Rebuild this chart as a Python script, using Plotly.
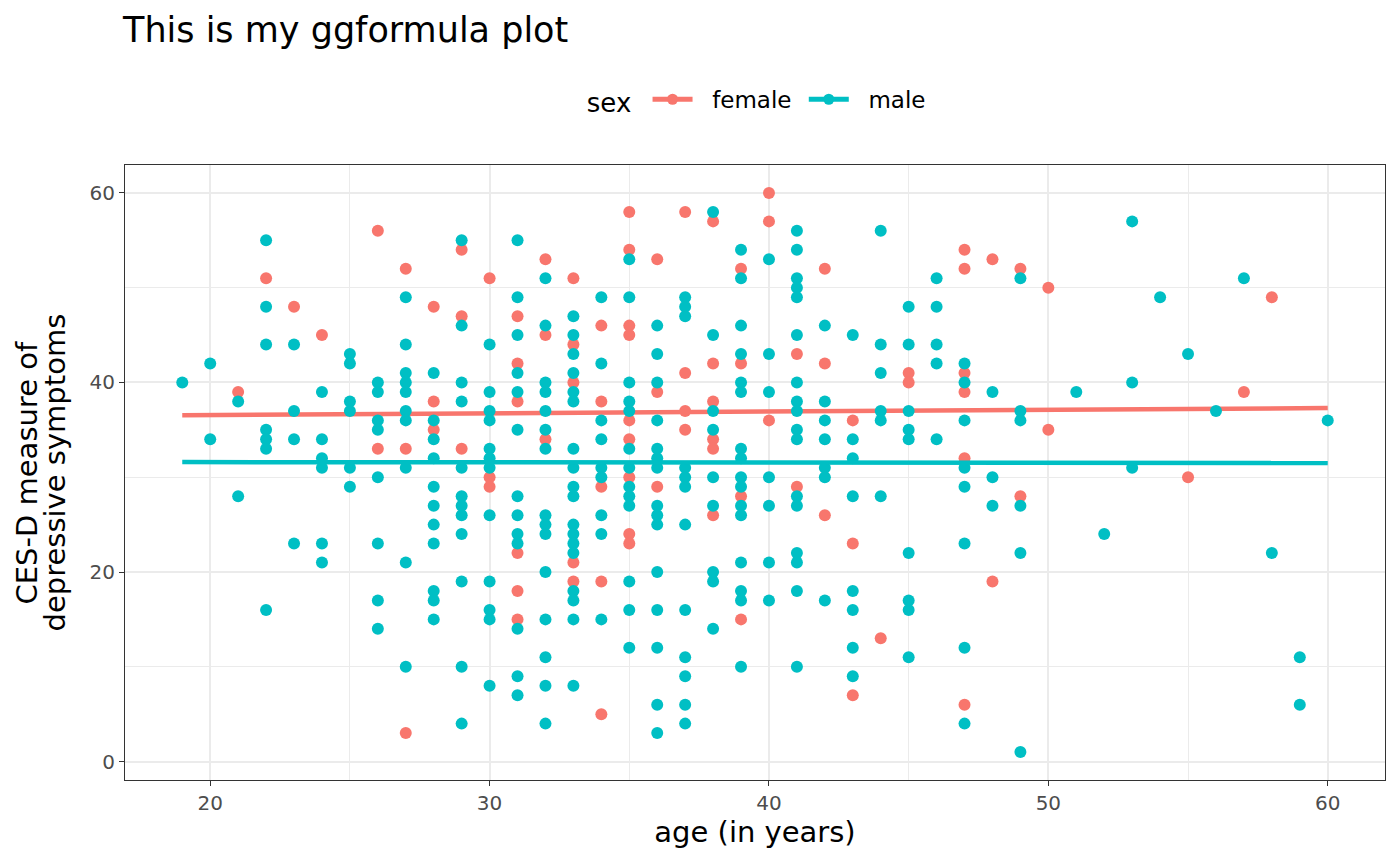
import plotly.graph_objects as go

# CES-D scores by age
female_age = [21, 22, 23, 24, 26, 26, 27, 27, 27, 28, 28, 28, 29, 29, 29, 30, 30, 30,
              31, 31, 31, 31, 31, 31, 32, 32, 32, 33, 33, 33, 33, 33,
              34, 34, 34, 34, 34, 35, 35, 35, 35, 35, 35, 35, 35, 35,
              36, 36, 36, 37, 37, 37, 37, 38, 38, 38, 38, 38, 38,
              39, 39, 39, 39, 40, 40, 40, 41, 41, 42, 42, 42, 43, 43, 43, 44,
              45, 45, 47, 47, 47, 47, 47, 47, 48, 48, 49, 49, 50, 50, 55, 57, 58]
female_cesd = [39, 51, 48, 45, 56, 33, 52, 33, 3, 48, 38, 35, 54, 47, 33, 51, 30, 29,
               47, 42, 38, 22, 18, 15, 53, 45, 34, 51, 44, 40, 21, 19,
               46, 38, 29, 19, 5, 58, 54, 46, 45, 36, 34, 30, 24, 23,
               53, 39, 29, 58, 41, 37, 35, 57, 42, 38, 34, 33, 26,
               52, 42, 28, 15, 60, 57, 36, 43, 29, 52, 42, 26, 36, 23, 7, 13,
               41, 40, 54, 52, 41, 39, 32, 6, 53, 19, 52, 28, 50, 35, 30, 39, 49]

male_by_age = {
    19: [40],
    20: [42, 34],
    21: [38, 28],
    22: [55, 48, 44, 35, 34, 33, 16],
    23: [44, 37, 34, 23],
    24: [39, 34, 32, 31, 23, 21],
    25: [43, 42, 38, 37, 31, 29],
    26: [40, 39, 36, 35, 30, 23, 17, 14],
    27: [49, 44, 41, 40, 39, 37, 36, 31, 21, 10],
    28: [41, 36, 34, 32, 29, 27, 25, 23, 18, 17, 15],
    29: [55, 46, 40, 38, 31, 28, 27, 26, 24, 19, 10, 4],
    30: [44, 39, 37, 36, 33, 32, 31, 26, 19, 16, 15, 8],
    31: [55, 49, 45, 41, 39, 35, 28, 26, 24, 23, 14, 9, 7],
    32: [51, 46, 40, 39, 37, 35, 33, 26, 25, 24, 20, 15, 11, 8, 4],
    33: [47, 45, 43, 41, 39, 38, 33, 31, 29, 28, 25, 24, 23, 22, 18, 17, 15, 8],
    34: [49, 42, 36, 34, 31, 30, 26, 24, 15],
    35: [53, 49, 40, 38, 37, 33, 31, 29, 28, 27, 19, 16, 12],
    36: [46, 43, 40, 36, 33, 32, 31, 27, 26, 25, 20, 16, 12, 6, 3],
    37: [49, 48, 47, 31, 30, 29, 25, 16, 11, 9, 6, 4],
    38: [58, 45, 37, 35, 30, 27, 20, 19, 14],
    39: [54, 51, 46, 43, 40, 39, 33, 32, 30, 29, 27, 26, 21, 18, 17, 10],
    40: [53, 43, 39, 30, 27, 21, 17],
    41: [56, 54, 51, 50, 49, 45, 40, 38, 37, 35, 34, 28, 27, 22, 21, 18, 10],
    42: [46, 38, 36, 34, 31, 30, 17],
    43: [45, 34, 32, 28, 18, 16, 12, 9],
    44: [56, 44, 41, 37, 36, 28],
    45: [48, 44, 37, 35, 34, 22, 17, 16, 11],
    46: [51, 48, 44, 42, 34],
    47: [42, 40, 36, 31, 29, 23, 12, 4],
    48: [39, 30, 27],
    49: [51, 37, 36, 27, 22, 1],
    51: [39],
    52: [24],
    53: [57, 40, 31],
    54: [49],
    55: [43],
    56: [37],
    57: [51],
    58: [22],
    59: [11, 6],
    60: [36],
}
male_age = [a for a, vals in male_by_age.items() for _ in vals]
male_cesd = [v for vals in male_by_age.values() for v in vals]

# fitted lm lines (endpoints)
fit_age = [19, 60]
female_fit = [36.55, 37.3]
male_fit = [31.6, 31.5]

y_title_lines = ["CES-D measure of", "depressive symptoms"]

RED = "#F8766D"
TEAL = "#00BFC4"

fig = go.Figure()
for name, color, ages, vals, fit in [
    ("female", RED, female_age, female_cesd, female_fit),
    ("male", TEAL, male_age, male_cesd, male_fit),
]:
    fig.add_trace(go.Scatter(x=ages, y=vals, mode="markers", showlegend=False,
                             marker=dict(color=color, size=12), hoverinfo="x+y"))
    fig.add_trace(go.Scatter(x=fit_age, y=fit, mode="lines", showlegend=False,
                             line=dict(color=color, width=4.5)))
    # legend-only entry (line with dot)
    fig.add_trace(go.Scatter(x=[None], y=[None], mode="lines+markers",
                             name="  " + name + " ",
                             line=dict(color=color, width=5),
                             marker=dict(color=color, size=11)))

axis_common = dict(
    showline=True, mirror=True, linecolor="#333333", linewidth=1,
    ticks="outside", ticklen=5, tickcolor="#333333", tickwidth=1,
    showgrid=True, gridcolor="#EBEBEB", gridwidth=1.6,
    zeroline=False,
    tickfont=dict(size=20, color="#4D4D4D"),
)

fig.update_xaxes(
    range=[16.95, 62.05], tickvals=[20, 30, 40, 50, 60],
    minor=dict(tickvals=[25, 35, 45, 55], showgrid=True, gridcolor="#EBEBEB",
               gridwidth=0.8, ticks=""),
    title=dict(text="age (in years)", font=dict(size=29, color="black"), standoff=4),
    **axis_common,
)
fig.update_yaxes(
    range=[-1.95, 62.95], tickvals=[0, 20, 40, 60],
    minor=dict(tickvals=[10, 30, 50], showgrid=True, gridcolor="#EBEBEB",
               gridwidth=0.8, ticks=""),
    **axis_common,
)

# two-line y title with tight line spacing, like ggplot
for xpos, line in zip([-0.0778, -0.0556], y_title_lines):
    fig.add_annotation(text=line, xref="paper", yref="paper", x=xpos, y=0.5,
                       xanchor="center", yanchor="middle", textangle=-90,
                       showarrow=False, font=dict(size=29, color="black"))

fig.update_layout(
    width=1384, height=849,
    template="simple_white",
    plot_bgcolor="white", paper_bgcolor="white",
    font=dict(family="DejaVu Sans", color="black"),
    margin=dict(l=117, r=7, t=157, b=77),
    title=dict(text="This is my ggformula plot", x=115 / 1384, xanchor="left",
               y=1 - 22 / 849, yanchor="middle", font=dict(size=35, color="black")),
    legend=dict(orientation="h", x=0.505, xanchor="center", y=1.106, yanchor="middle",
                title=dict(text="sex ", font=dict(size=26)),
                font=dict(size=23), itemwidth=40),
)

fig.write_html("out.html")
